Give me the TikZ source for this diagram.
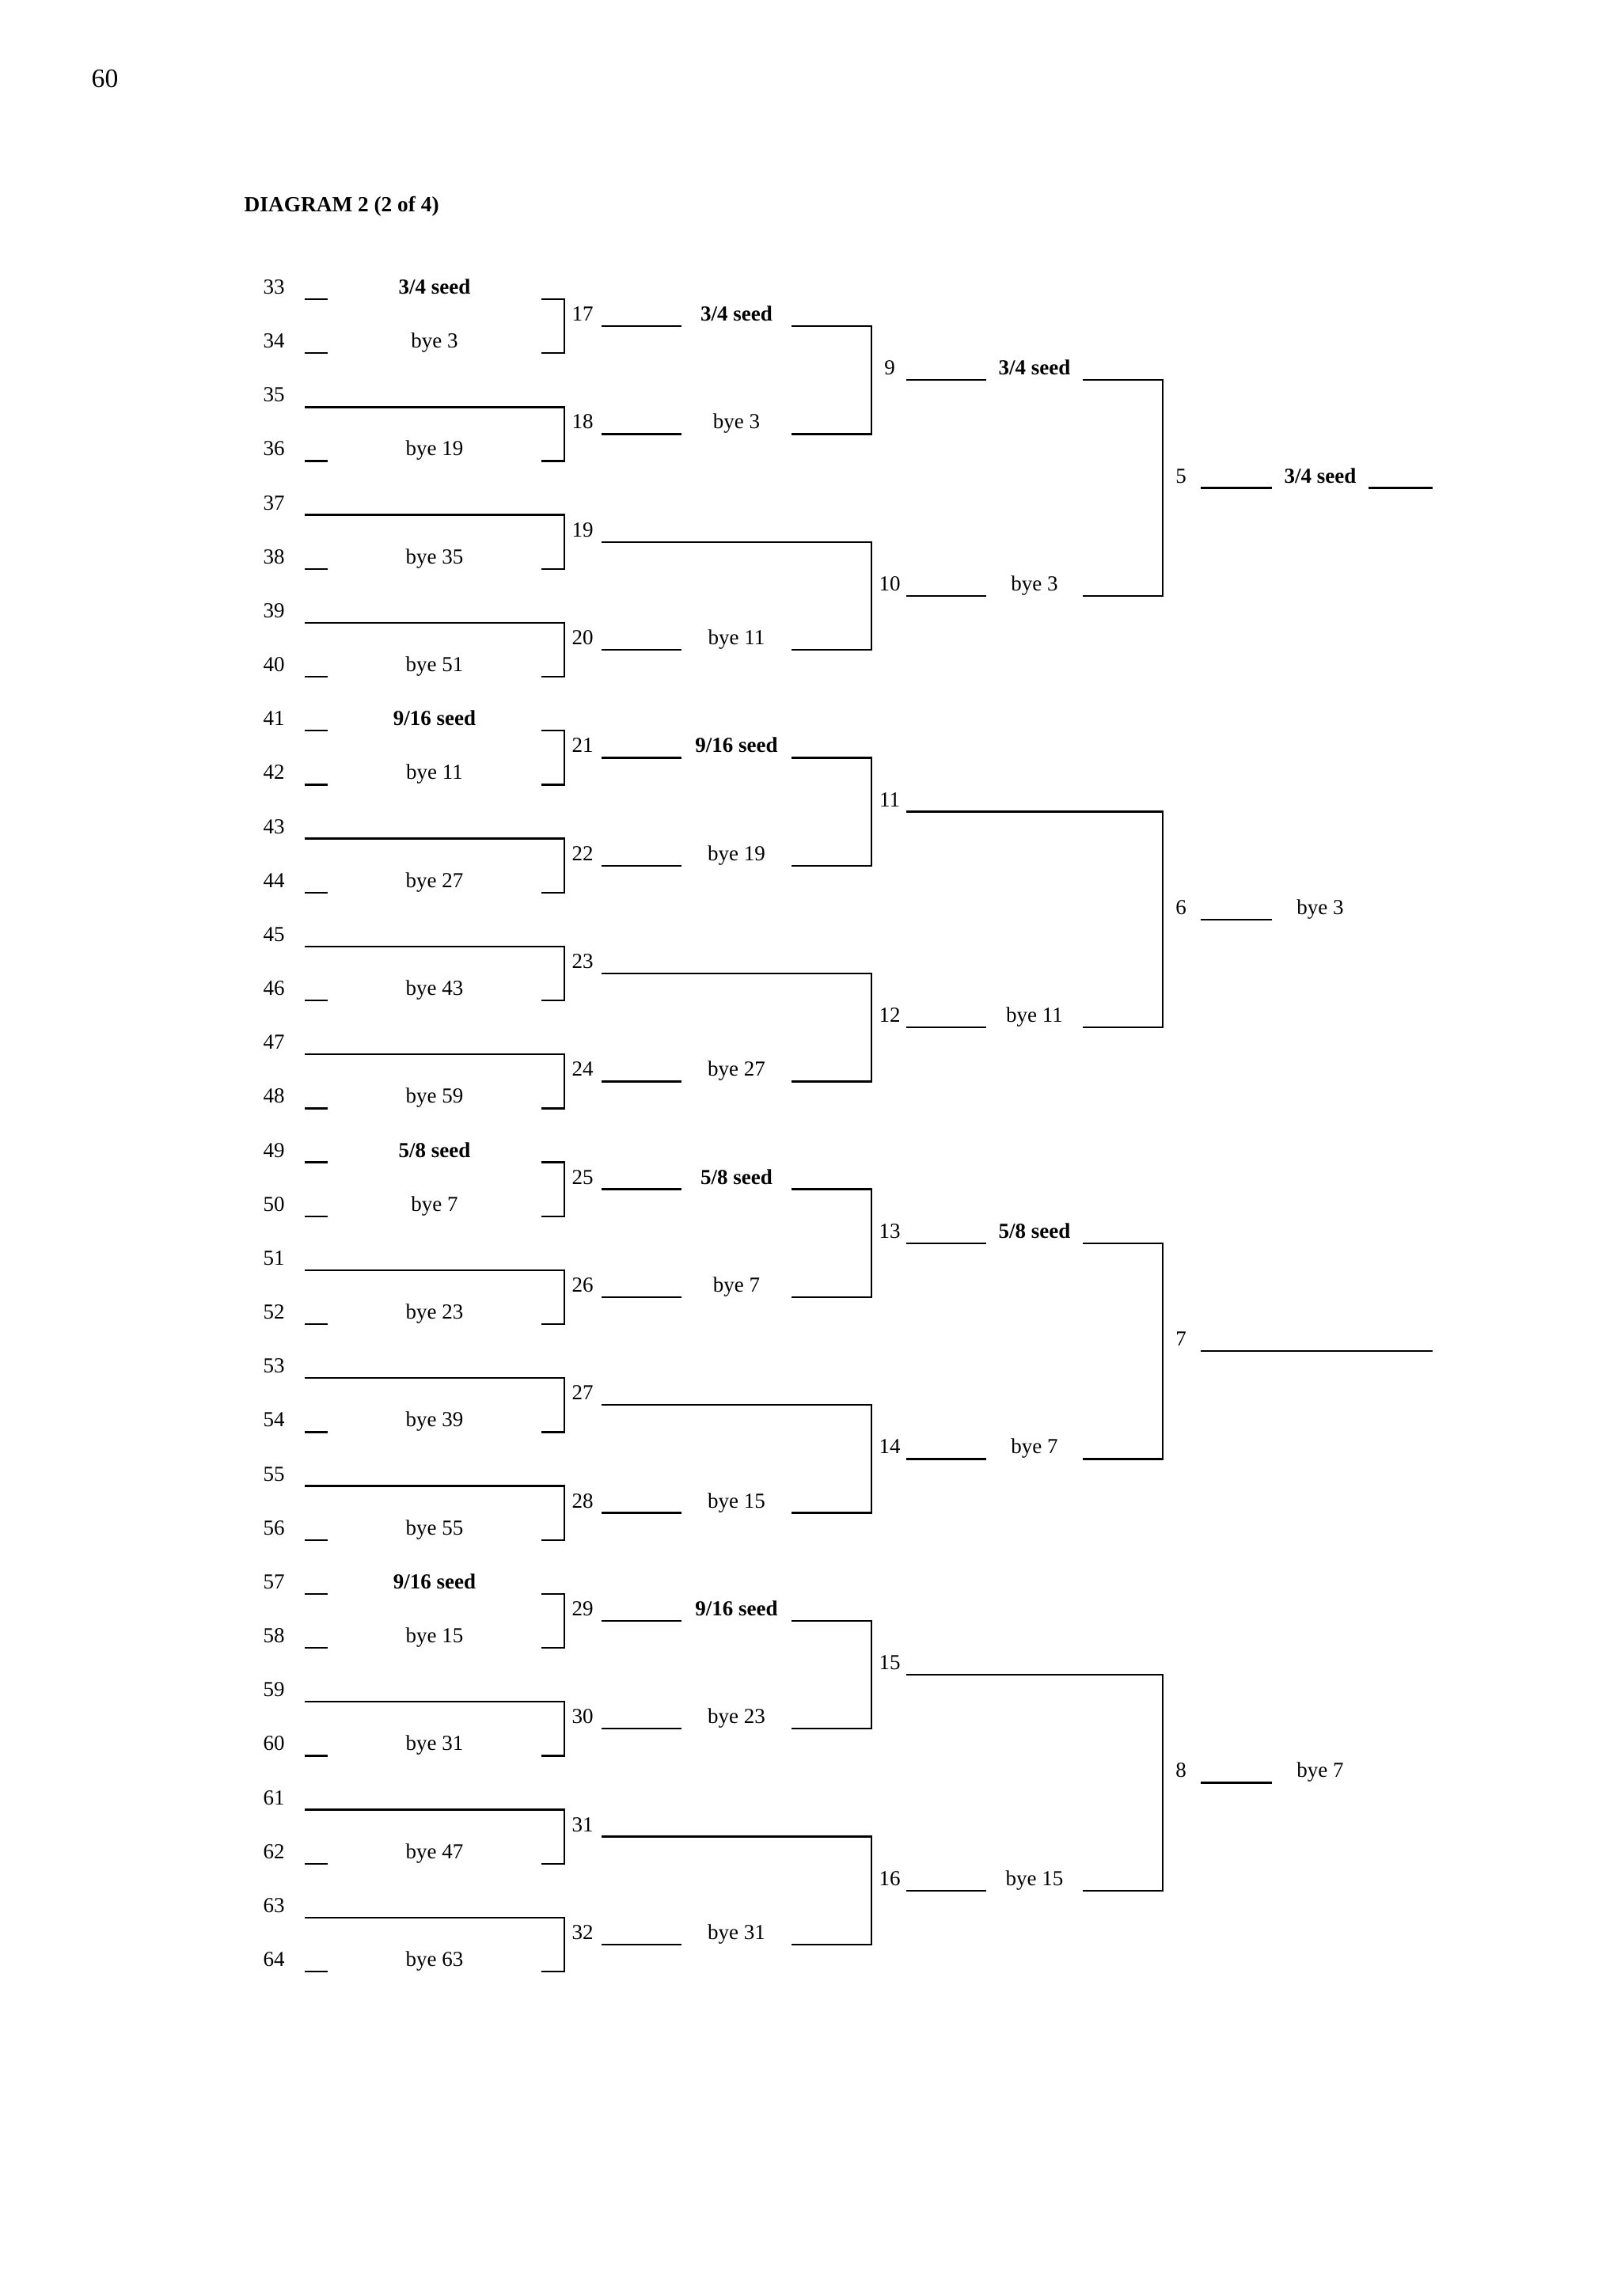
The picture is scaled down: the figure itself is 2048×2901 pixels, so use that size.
\documentclass[tikz,border=0pt]{standalone}
\usepackage{fontspec}
\setmainfont{Liberation Serif}
\usetikzlibrary{calc}
\begin{document}
\begin{tikzpicture}[x=0.3pt,y=-0.3pt]
    % Stili
    \tikzset{num/.style={anchor=base, inner sep=0pt, font=\fontsize{8.1}{9.7}\selectfont}}
    \tikzstyle{bye}=[num]
    \tikzstyle{seed}=[num, font=\fontsize{8.1}{9.7}\selectfont\bfseries]
    \tikzstyle{bkt}=[line width=0.7pt, line cap=rect]

    \useasboundingbox (0,0) rectangle (2048,2901);

    % Intestazione
    \node[anchor=base west, inner sep=0pt, font=\fontsize{10.1}{12}\selectfont] (page) at (115,110.5) {60};
    \node[anchor=base west, inner sep=0pt, font=\fontsize{8.2}{10}\selectfont\bfseries] (title) at (308,267) {DIAGRAM 2 (2 of 4)};

    % TURNO 1: incontri 33-64
    \foreach \num in {33,...,64} {
        \pgfmathsetmacro\y{378+68.16*(\num-33)}
        \coordinate (a\num) at (386,\y);
        \coordinate (b\num) at (413,\y);
        \coordinate (c\num) at (685,\y);
        \coordinate (d\num) at (713,\y);
        \node[num] (n\num) at (346,\y-6.5) {\num};
    }
    \foreach \num in {35,37,39,43,45,47,51,53,55,59,61,63}
        \draw[bkt] (a\num) -- (d\num);
    \foreach \num/\lab/\sty in {33/{3/4 seed}/seed, 34/bye 3/bye, 36/bye 19/bye, 38/bye 35/bye,
        40/bye 51/bye, 41/{9/16 seed}/seed, 42/bye 11/bye, 44/bye 27/bye, 46/bye 43/bye,
        48/bye 59/bye, 49/{5/8 seed}/seed, 50/bye 7/bye, 52/bye 23/bye, 54/bye 39/bye,
        56/bye 55/bye, 57/{9/16 seed}/seed, 58/bye 15/bye, 60/bye 31/bye, 62/bye 47/bye,
        64/bye 63/bye} {
        \draw[bkt] (a\num) -- (b\num);
        \draw[bkt] (c\num) -- (d\num);
        \node[\sty] (t\num) at ($(b\num)!0.5!(c\num)+(0,-6.5)$) {\lab};
    }
    \foreach \num in {33,35,...,63} {
        \pgfmathtruncatemacro\nxt{\num+1}
        \draw[bkt] (d\num) -- (d\nxt);
    }

    % TURNO 2: incontri 17-32
    \foreach \num in {17,...,32} {
        \pgfmathsetmacro\y{412.08+136.32*(\num-17)}
        \coordinate (a\num) at (761,\y);
        \coordinate (b\num) at (860,\y);
        \coordinate (c\num) at (1001,\y);
        \coordinate (d\num) at (1101,\y);
        \node[num] (n\num) at (736,\y-6.5) {\num};
    }
    \foreach \num in {19,23,27,31}
        \draw[bkt] (a\num) -- (d\num);
    \foreach \num/\lab/\sty in {17/{3/4 seed}/seed, 18/bye 3/bye, 20/bye 11/bye,
        21/{9/16 seed}/seed, 22/bye 19/bye, 24/bye 27/bye, 25/{5/8 seed}/seed,
        26/bye 7/bye, 28/bye 15/bye, 29/{9/16 seed}/seed, 30/bye 23/bye, 32/bye 31/bye} {
        \draw[bkt] (a\num) -- (b\num);
        \draw[bkt] (c\num) -- (d\num);
        \node[\sty] (t\num) at ($(b\num)!0.5!(c\num)+(0,-6.5)$) {\lab};
    }
    \foreach \num in {17,19,...,31} {
        \pgfmathtruncatemacro\nxt{\num+1}
        \draw[bkt] (d\num) -- (d\nxt);
    }

    % TURNO 3: incontri 9-16
    \foreach \num in {9,...,16} {
        \pgfmathsetmacro\y{480.24+272.64*(\num-9)}
        \coordinate (a\num) at (1146,\y);
        \coordinate (b\num) at (1245,\y);
        \coordinate (c\num) at (1369,\y);
        \coordinate (d\num) at (1469,\y);
        \node[num] (n\num) at (1124,\y-6.5) {\num};
    }
    \foreach \num in {11,15}
        \draw[bkt] (a\num) -- (d\num);
    \foreach \num/\lab/\sty in {9/{3/4 seed}/seed, 10/bye 3/bye, 12/bye 11/bye,
        13/{5/8 seed}/seed, 14/bye 7/bye, 16/bye 15/bye} {
        \draw[bkt] (a\num) -- (b\num);
        \draw[bkt] (c\num) -- (d\num);
        \node[\sty] (t\num) at ($(b\num)!0.5!(c\num)+(0,-6.5)$) {\lab};
    }
    \foreach \num in {9,11,13,15} {
        \pgfmathtruncatemacro\nxt{\num+1}
        \draw[bkt] (d\num) -- (d\nxt);
    }

    % TURNO 4: incontri 5-8
    \foreach \num in {5,...,8} {
        \pgfmathsetmacro\y{616.56+545.28*(\num-5)}
        \coordinate (a\num) at (1518,\y);
        \coordinate (b\num) at (1606,\y);
        \coordinate (c\num) at (1730,\y);
        \coordinate (d\num) at (1809,\y);
        \node[num] (n\num) at (1492,\y-6.5) {\num};
    }
    \draw[bkt] (a5) -- (b5);
    \draw[bkt] (c5) -- (d5);
    \node[seed] (t5) at ($(b5)!0.5!(c5)+(0,-6.5)$) {3/4 seed};
    \draw[bkt] (a6) -- (b6);
    \node[bye] (t6) at ($(b6)!0.5!(c6)+(0,-6.5)$) {bye 3};
    \draw[bkt] (a7) -- (d7);
    \draw[bkt] (a8) -- (b8);
    \node[bye] (t8) at ($(b8)!0.5!(c8)+(0,-6.5)$) {bye 7};
\end{tikzpicture}
\end{document}
